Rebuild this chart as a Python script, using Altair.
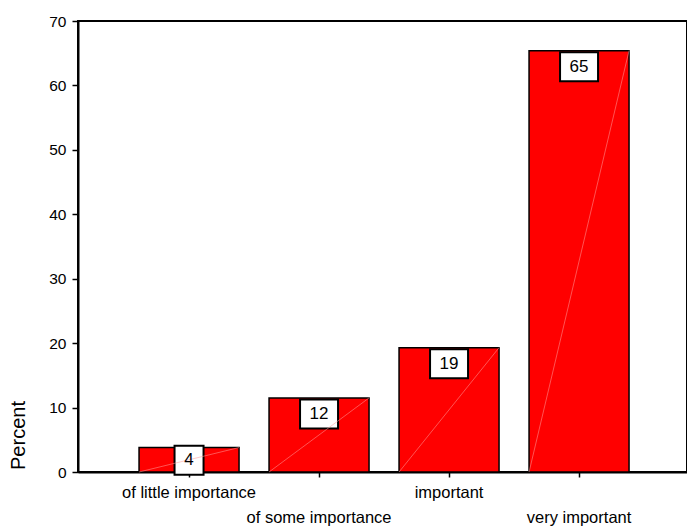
import altair as alt
import pandas as pd

# Survey answers: share of respondents per importance rating
categories = ["of little importance", "of some importance", "important", "very important"]
percents = [3.8, 11.5, 19.3, 65.4]
y_ticks = [0, 10, 20, 30, 40, 50, 60, 70]

df = pd.DataFrame({"rating": categories, "percent": percents})

FONT = "Liberation Sans"
RED = "#ff0000"

x_enc = alt.X(
    "rating:N",
    sort=categories,
    scale=alt.Scale(paddingInner=0.2308, paddingOuter=0.4577, align=0.513),
    axis=alt.Axis(
        title=None,
        labelAngle=0,
        labelFont=FONT,
        labelFontSize=16.5,
        labelColor="black",
        labelBaseline="top",
        labelPadding=7,
        labelLineHeight=25,
        labelOverlap=False,
        labelExpr="(datum.value == 'of some importance' || datum.value == 'very important') ? ['', datum.value] : datum.value",
        tickColor="black",
        tickSize=5,
        tickWidth=1.5,
        domainColor="black",
        domainWidth=2,
    ),
)

y_scale = alt.Scale(domain=[0, 70], nice=False, zero=True)

base = alt.Chart(df).transform_calculate(
    zero="0",
    label="format(datum.percent, '.0f')",
    box_top="max(datum.percent, 4.3)",
    digits="length(format(datum.percent, '.0f'))",
)

bars = base.mark_bar(
    color=RED, stroke="black", strokeWidth=1.5, width=100
).encode(
    x=x_enc,
    y=alt.Y(
        "percent:Q",
        scale=y_scale,
        axis=alt.Axis(
            values=y_ticks,
            grid=False,
            title="Percent",
            titleFont=FONT,
            titleFontSize=20,
            titleFontWeight="normal",
            titleColor="black",
            titleAngle=270,
            titleAlign="center",
            titleBaseline="middle",
            titleX=-60,
            titleY=414,
            labelFont=FONT,
            labelFontSize=15.5,
            labelColor="black",
            labelPadding=6,
            tickColor="black",
            tickSize=6,
            tickWidth=1.5,
            domainColor="black",
            domainWidth=2,
        ),
    ),
)

# thin light seam running corner to corner across each bar
seams = base.mark_rule(
    color="#ff9a9a", strokeWidth=0.6, opacity=0.9, xOffset=-50, x2Offset=50
).encode(
    x=alt.X("rating:N", sort=categories),
    x2="rating:N",
    y=alt.Y("zero:Q", scale=y_scale),
    y2="percent:Q",
)


def label_boxes(n_digits, box_width):
    return base.transform_filter(f"datum.digits == {n_digits}").mark_bar(
        fill="white",
        stroke="black",
        strokeWidth=2,
        width=box_width,
        yOffset=1.5,
        y2Offset=30.5,
    ).encode(
        x=alt.X("rating:N", sort=categories),
        y=alt.Y("box_top:Q", scale=y_scale),
        y2="box_top:Q",
    )


boxes_single = label_boxes(1, 29)
boxes_double = label_boxes(2, 38)

texts = base.mark_text(
    font=FONT, fontSize=17, color="black", baseline="middle", align="center", dy=16
).encode(
    x=alt.X("rating:N", sort=categories),
    y=alt.Y("box_top:Q", scale=y_scale),
    text="label:N",
)

chart = (
    alt.layer(bars, boxes_single, boxes_double, seams, texts)
    .properties(
        width=609,
        height=451,
        autosize=alt.AutoSizeParams(type="none"),
        padding={"left": 78, "top": 21, "right": 0, "bottom": 54},
        background="white",
    )
    .configure_view(stroke="black", strokeWidth=2)
)

chart.save("out.html", embed_options={"renderer": "svg", "actions": False})
